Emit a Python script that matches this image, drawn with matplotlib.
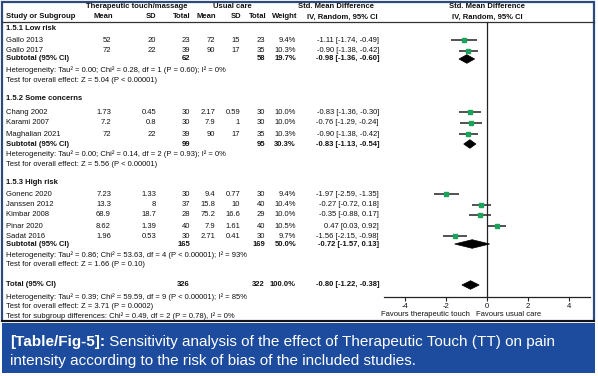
import matplotlib
matplotlib.use("Agg")
import matplotlib.pyplot as plt
from matplotlib.patches import Rectangle, Polygon

plt.rcParams['font.family'] = ['Liberation Sans', 'DejaVu Sans']

# ---------------- data ----------------
studies = ["Gallo 2013", "Gallo 2017",
           "Chang 2002", "Karami 2007", "Maghalian 2021",
           "Gonenc 2020", "Janssen 2012", "Kimbar 2008", "Pinar 2020", "Sadat 2016"]
groups = [0, 0, 1, 1, 1, 2, 2, 2, 2, 2]
tt_mean = ["52", "72", "1.73", "7.2", "72", "7.23", "13.3", "68.9", "8.62", "1.96"]
tt_sd = ["20", "22", "0.45", "0.8", "22", "1.33", "8", "18.7", "1.39", "0.53"]
tt_n = [23, 39, 30, 30, 39, 30, 37, 28, 40, 30]
uc_mean = ["72", "90", "2.17", "7.9", "90", "9.4", "15.8", "75.2", "7.9", "2.71"]
uc_sd = ["15", "17", "0.59", "1", "17", "0.77", "10", "16.6", "1.61", "0.41"]
uc_n = [23, 35, 30, 30, 35, 30, 40, 29, 40, 30]
weight = [9.4, 10.3, 10.0, 10.0, 10.3, 9.4, 10.4, 10.0, 10.5, 9.7]
smd = [-1.11, -0.90, -0.83, -0.76, -0.90, -1.97, -0.27, -0.35, 0.47, -1.56]
lo = [-1.74, -1.38, -1.36, -1.29, -1.38, -2.59, -0.72, -0.88, 0.03, -2.15]
hi = [-0.49, -0.42, -0.30, -0.24, -0.42, -1.35, 0.18, 0.17, 0.92, -0.98]

group_names = ["1.5.1 Low risk", "1.5.2 Some concerns", "1.5.3 High risk"]
sub_tt_n = [62, 99, 165]
sub_uc_n = [58, 95, 169]
sub_weight = [19.7, 30.3, 50.0]
sub_smd = [-0.98, -0.83, -0.72]
sub_lo = [-1.36, -1.13, -1.57]
sub_hi = [-0.60, -0.54, 0.13]
sub_het = ["Heterogeneity: Tau\u00b2 = 0.00; Chi\u00b2 = 0.28, df = 1 (P = 0.60); I\u00b2 = 0%",
           "Heterogeneity: Tau\u00b2 = 0.00; Chi\u00b2 = 0.14, df = 2 (P = 0.93); I\u00b2 = 0%",
           "Heterogeneity: Tau\u00b2 = 0.86; Chi\u00b2 = 53.63, df = 4 (P < 0.00001); I\u00b2 = 93%"]
sub_test = ["Test for overall effect: Z = 5.04 (P < 0.00001)",
            "Test for overall effect: Z = 5.56 (P < 0.00001)",
            "Test for overall effect: Z = 1.66 (P = 0.10)"]

tot_tt_n, tot_uc_n, tot_weight = 326, 322, 100.0
tot_smd, tot_lo, tot_hi = -0.80, -1.22, -0.38
tot_het = "Heterogeneity: Tau\u00b2 = 0.39; Chi\u00b2 = 59.59, df = 9 (P < 0.00001); I\u00b2 = 85%"
tot_test = "Test for overall effect: Z = 3.71 (P = 0.0002)"
subgroup_test = "Test for subgroup differences: Chi\u00b2 = 0.49, df = 2 (P = 0.78), I\u00b2 = 0%"

xticks = [-4, -2, 0, 2, 4]
fav_left = "Favours therapeutic touch"
fav_right = "Favours usual care"
cap_bold = "[Table/Fig-5]:"
cap_rest1 = " Sensitivity analysis of the effect of Therapeutic Touch (TT) on pain"
cap_line2 = "intensity according to the risk of bias of the included studies."

# ---------------- layout (pixels) ----------------
W, H = 598, 376
study_y = [40, 51, 112, 123, 134, 194, 205, 215, 226, 236]
group_y = [28, 98, 183]
sub_y = [59, 144, 244]
het_y = [70, 154, 255]
test_y = [81, 164, 265]
total_y, tot_het_y, tot_test_y, sg_y = 285, 297, 307, 316

FS = 5.5
X_STUDY, X_M1, X_SD1, X_N1, X_M2, X_SD2, X_N2, X_W, X_CI = 6, 111, 156, 190, 215, 240, 265, 296, 379
FRAME = '#2b4a7e'
BANNER = '#1d4c9e'
GREEN = '#1aa35a'

fig = plt.figure(figsize=(W / 100, H / 100), dpi=100)
bg = fig.add_axes([0, 0, 1, 1])
bg.set_xlim(0, W)
bg.set_ylim(H, 0)
bg.axis('off')


def t(x, y, s, ha='left', bold=False, **kw):
    bg.text(x, y, s, ha=ha, va='center', fontsize=FS,
            fontweight='bold' if bold else 'normal', color='#111111', **kw)


# frame
bg.add_patch(Rectangle((2, 2), 592, 319, fill=False, edgecolor=FRAME, lw=1.6))
bg.plot([2, 594], [22, 22], color='#333333', lw=0.9)
bg.plot([2, 594], [321, 321], color='#111111', lw=1.4)

# headers
t(137, 7, "Therapeutic touch/massage", ha='center', bold=True)
t(232, 7, "Usual care", ha='center', bold=True)
t(374, 7, "Std. Mean Difference", ha='right', bold=True)
t(487, 7, "Std. Mean Difference", ha='center', bold=True)
t(X_STUDY, 17, "Study or Subgroup", bold=True)
t(113, 17, "Mean", ha='right', bold=True)
t(156, 17, "SD", ha='right', bold=True)
t(191, 17, "Total", ha='right', bold=True)
t(216, 17, "Mean", ha='right', bold=True)
t(241, 17, "SD", ha='right', bold=True)
t(267, 17, "Total", ha='right', bold=True)
t(297, 17, "Weight", ha='right', bold=True)
t(378, 17, "IV, Random, 95% CI", ha='right', bold=True)
t(487, 17, "IV, Random, 95% CI", ha='center', bold=True)


def ci(e, l, h):
    return f"{e:.2f} [{l:.2f}, {h:.2f}]"


for i, name in enumerate(studies):
    y = study_y[i]
    t(X_STUDY, y, name)
    t(X_M1, y, tt_mean[i], ha='right')
    t(X_SD1, y, tt_sd[i], ha='right')
    t(X_N1, y, str(tt_n[i]), ha='right')
    t(X_M2, y, uc_mean[i], ha='right')
    t(X_SD2, y, uc_sd[i], ha='right')
    t(X_N2, y, str(uc_n[i]), ha='right')
    t(X_W, y, f"{weight[i]:.1f}%", ha='right')
    t(X_CI, y, ci(smd[i], lo[i], hi[i]), ha='right')

for g in range(3):
    t(X_STUDY, group_y[g], group_names[g], bold=True)
    t(X_STUDY, sub_y[g], "Subtotal (95% CI)", bold=True)
    t(X_N1, sub_y[g], str(sub_tt_n[g]), ha='right', bold=True)
    t(X_N2, sub_y[g], str(sub_uc_n[g]), ha='right', bold=True)
    t(X_W, sub_y[g], f"{sub_weight[g]:.1f}%", ha='right', bold=True)
    t(X_CI, sub_y[g], ci(sub_smd[g], sub_lo[g], sub_hi[g]), ha='right', bold=True)
    t(X_STUDY, het_y[g], sub_het[g])
    t(X_STUDY, test_y[g], sub_test[g])

t(X_STUDY, total_y, "Total (95% CI)", bold=True)
t(X_N1, total_y, str(tot_tt_n), ha='right', bold=True)
t(X_N2, total_y, str(tot_uc_n), ha='right', bold=True)
t(X_W, total_y, f"{tot_weight:.1f}%", ha='right', bold=True)
t(X_CI, total_y, ci(tot_smd, tot_lo, tot_hi), ha='right', bold=True)
t(X_STUDY, tot_het_y, tot_het)
t(X_STUDY, tot_test_y, tot_test)
t(X_STUDY, sg_y, subgroup_test)

# ---------------- forest axes ----------------
AX_L, AX_R, AX_TOP, AX_BOT = 384, 590, 22, 297
fa = fig.add_axes([AX_L / W, (H - AX_BOT) / H, (AX_R - AX_L) / W, (AX_BOT - AX_TOP) / H])
fa.set_xlim(-5, 5)
fa.set_ylim(AX_BOT, AX_TOP)
fa.patch.set_alpha(0)
for s in ['top', 'left', 'right']:
    fa.spines[s].set_visible(False)
fa.spines['bottom'].set_color('#222222')
fa.spines['bottom'].set_linewidth(0.9)
fa.set_yticks([])
fa.set_xticks(xticks)
fa.set_xticklabels([str(v) for v in xticks], fontsize=FS, color='#111111')
fa.tick_params(axis='x', length=3, width=0.8, pad=1, color='#222222')
fa.axvline(0, color='#222222', lw=0.9)

for i in range(len(studies)):
    y = study_y[i]
    fa.plot([lo[i], hi[i]], [y, y], color='#222222', lw=1.1, solid_capstyle='butt', zorder=2)
    fa.plot([smd[i]], [y], marker='s', ms=1.4 + weight[i] * 0.12, color=GREEN,
            mec=GREEN, zorder=3, ls='none')


def diamond(e, l, h, y, hh=4.3):
    fa.add_patch(Polygon([(l, y), (e, y - hh), (h, y), (e, y + hh)], closed=True,
                         facecolor='black', edgecolor='black', lw=0.5, zorder=3))


for g in range(3):
    diamond(sub_smd[g], sub_lo[g], sub_hi[g], sub_y[g])
diamond(tot_smd, tot_lo, tot_hi, total_y)

bg.text(470, 315, fav_left, ha='right', va='center', fontsize=FS, color='#111111')
bg.text(476, 315, fav_right, ha='left', va='center', fontsize=FS, color='#111111')

# ---------------- caption banner ----------------
bg.add_patch(Rectangle((2, 323), 593, 50, facecolor=BANNER, edgecolor='none'))
CFS = 11.0
tb = bg.text(10, 342, cap_bold, ha='left', va='center', fontsize=CFS,
             fontweight='bold', color='white')
fig.canvas.draw()
bb = tb.get_window_extent(renderer=fig.canvas.get_renderer())
x_end = bb.x1  # pixels == data units in bg
bg.text(x_end, 342, cap_rest1, ha='left', va='center', fontsize=CFS, color='white')
bg.text(10, 361, cap_line2, ha='left', va='center', fontsize=CFS, color='white')

fig.savefig("out.png", dpi=100)
